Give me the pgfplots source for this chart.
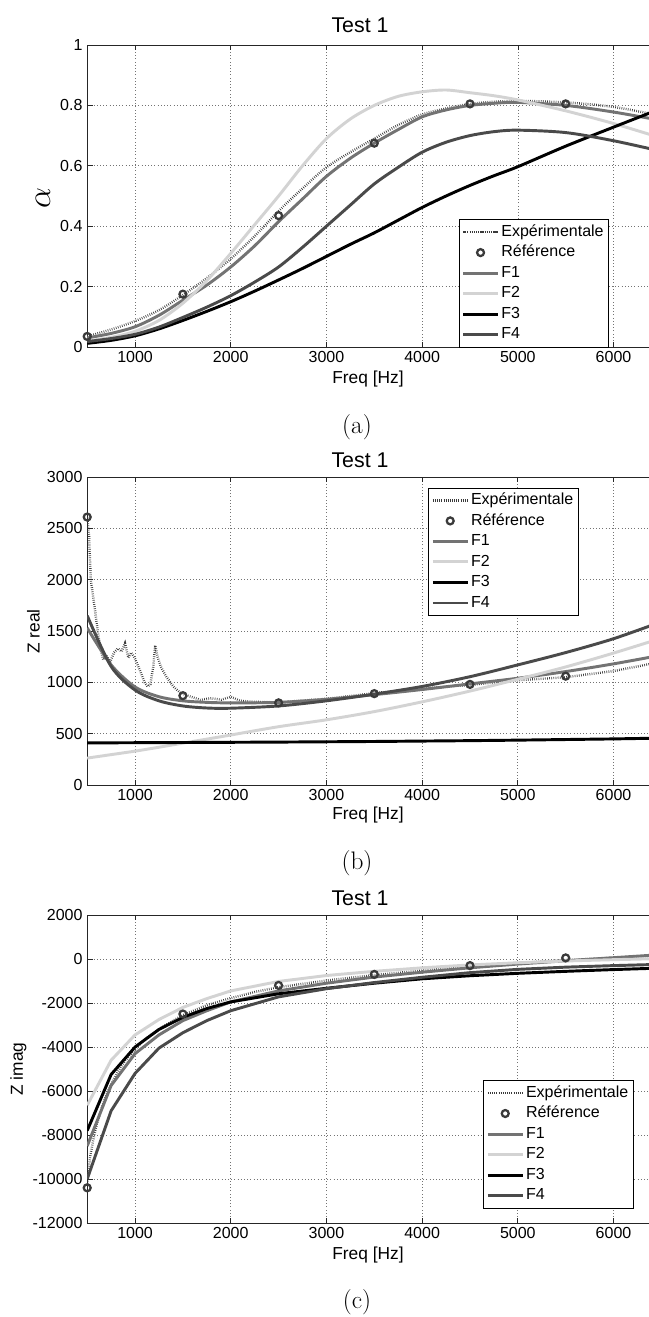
\documentclass[border=0pt]{standalone}
\usepackage{fontspec}
\usepackage{pgfplots}
\usepackage{pgfplotstable}
\pgfplotsset{compat=1.18}
\newfontfamily\hv{Liberation Sans}
\definecolor{cF1}{HTML}{737373}
\definecolor{cF2}{HTML}{D3D3D3}
\definecolor{cF3}{HTML}{000000}
\definecolor{cF4}{HTML}{4A4A4A}
\definecolor{cExp}{HTML}{3A3A3A}
\definecolor{cRef}{HTML}{3A3A3A}

\pgfplotstableread{
f     F1    F2    F3    F4    Exp
500   0.030 0.020 0.012 0.018 0.035
750   0.045 0.032 0.022 0.028 0.058
1000  0.067 0.052 0.037 0.042 0.086
1250  0.105 0.088 0.060 0.066 0.122
1500  0.155 0.145 0.088 0.098 0.172
1750  0.205 0.220 0.118 0.132 0.228
2000  0.265 0.310 0.150 0.170 0.292
2250  0.335 0.405 0.185 0.215 0.367
2500  0.415 0.500 0.222 0.265 0.450
2750  0.490 0.600 0.260 0.330 0.525
3000  0.565 0.690 0.300 0.400 0.595
3250  0.625 0.755 0.340 0.470 0.645
3500  0.675 0.800 0.378 0.540 0.690
3750  0.720 0.830 0.420 0.595 0.735
4000  0.762 0.845 0.462 0.645 0.770
4250  0.785 0.851 0.500 0.678 0.790
4500  0.800 0.842 0.535 0.700 0.805
4750  0.807 0.832 0.567 0.713 0.812
5000  0.810 0.818 0.597 0.718 0.815
5500  0.800 0.782 0.665 0.710 0.810
6000  0.778 0.740 0.728 0.683 0.795
6500  0.750 0.692 0.790 0.648 0.765
}\tabA
\pgfplotstableread{
f     R
500   0.035
1500  0.175
2500  0.435
3500  0.675
4500  0.805
5500  0.805
6500  0.760
}\refA

\pgfplotstableread{
f     F1    F2    F3    F4
500   1530  262   410   1650
750   1170  296   411   1155
1000  955   330   412   925
1250  860   368   413   820
1500  820   408   414   770
1750  805   447   415   750
2000  800   487   416   748
2500  805   568   418   770
3000  835   635   421   820
3500  880   715   424   885
4000  930   810   428   960
4500  985   915   432   1055
5000  1040  1030  437   1170
5500  1105  1150  443   1290
6000  1180  1285  449   1425
6500  1265  1430  457   1590
}\tabB
\pgfplotstableread{
f     E
500   2610
520   2420
537   2000
560   1850
582   1700
610   1500
634   1350
668   1220
700   1260
740   1200
780   1290
820   1330
860   1300
895   1380
930   1240
960   1290
1000  1230
1050  1120
1100  1000
1130  960
1160  980
1190  1150
1210  1360
1235  1250
1270  1150
1330  1050
1400  960
1470  900
1550  870
1680  830
1800  845
1900  830
2000  860
2100  820
2250  810
2500  805
3000  840
3500  895
4000  940
4500  975
5000  1020
5500  1050
6000  1110
6500  1200
}\expB
\pgfplotstableread{
f     R
500   2610
1500  870
2500  800
3500  890
4500  980
5500  1060
}\refB

\pgfplotstableread{
f     F1     F2     F3     F4
500   -8500  -6650  -7800  -10000
750   -5750  -4600  -5250  -6900
1000  -4300  -3450  -4000  -5200
1250  -3450  -2750  -3200  -4050
1500  -2800  -2200  -2650  -3350
1750  -2350  -1800  -2250  -2800
2000  -1950  -1450  -1950  -2350
2500  -1450  -1020  -1580  -1720
3000  -1100  -750   -1330  -1350
3500  -820   -560   -1100  -1070
4000  -600   -400   -900   -830
4500  -400   -270   -760   -620
5000  -230   -170   -650   -470
5500  -80    -90    -560   -370
6000  60     -30    -480   -300
6500  200    20     -410   -240
}\tabC
\pgfplotstableread{
f     E
500   -10300
510   -9800
530   -9000
560   -8300
600   -7500
650   -6800
700   -6200
750   -5700
800   -5300
850   -4900
900   -4600
1000  -4100
1100  -3650
1200  -3350
1300  -3050
1400  -2800
1500  -2550
1750  -2100
2000  -1780
2250  -1500
2500  -1280
3000  -980
3500  -730
4000  -520
4500  -330
5000  -180
5500  -50
6000  60
6500  160
}\expC
\pgfplotstableread{
f     R
500   -10400
1500  -2500
2500  -1200
3500  -700
4500  -300
5500  50
}\refC

\pgfplotsset{
  panel/.style={
    scale only axis, width=421.3pt,
    xmin=500, xmax=6370,
    axis x line*=box, axis y line*=left,
    axis line style={-, black!85, line width=0.6pt},
    xtick={1000,2000,3000,4000,5000,6000},
    xticklabels={1000,2000,3000,4000,5000,6000},
    scaled x ticks=false, scaled y ticks=false,
    tick align=inside, major tick length=4pt,
    tick style={black!85, line width=0.5pt},
    grid=major, grid style={dotted, black!55, line width=0.5pt},
    /pgf/number format/assume math mode=true,
    tick label style={font=\hv\fontsize{12}{13}\selectfont},
    legend cell align=left,
    legend style={font=\hv\fontsize{12}{13}\selectfont, draw=black, line width=0.6pt,
      inner xsep=2pt, inner ysep=1.5pt, row sep=0pt, outer sep=0pt,
      nodes={inner ysep=1.8pt, inner xsep=1.5pt, text height=9pt, text depth=2.8pt}},
    legend image code/.code={\draw[mark repeat=2,mark phase=2,##1] plot coordinates {(0pt,0pt) (13pt,0pt) (26pt,0pt)};},
  },
  fexp/.style={cExp, line width=1.8pt, dash pattern=on 0.5pt off 1.1pt},
  fref/.style={only marks, mark=o, mark size=2.6pt, mark options={draw=cRef, line width=1.7pt, solid},
    legend image code/.code={\draw[mark repeat=2,mark phase=2,##1] plot coordinates {(0pt,0pt) (13pt,0pt) (26pt,0pt)};}},
  f1/.style={cF1, line width=2.2pt},
  f2/.style={cF2, line width=2.2pt},
  f3/.style={cF3, line width=2.2pt},
  f4/.style={cF4, line width=2.2pt},
}

\begin{document}
\begin{tikzpicture}
\useasboundingbox (0,0) rectangle (486.75pt,-987.75pt);

% ---------- (a) ----------
\begin{axis}[panel, at={(65.4pt,-260.25pt)}, anchor=south west, height=226.5pt,
  ymin=0, ymax=1, ytick={0,0.2,0.4,0.6,0.8,1}, yticklabels={0,0.2,0.4,0.6,0.8,1},
  legend style={at={(0.662,0)}, anchor=south west}]
\addplot[fexp, smooth] table[x=f, y=Exp] {\tabA};
\addplot[fref] table[x=f, y=R] {\refA};
\addplot[f1, smooth] table[x=f, y=F1] {\tabA};
\addplot[f2, smooth] table[x=f, y=F2] {\tabA};
\addplot[f3, smooth] table[x=f, y=F3] {\tabA};
\addplot[f4, smooth] table[x=f, y=F4] {\tabA};
\legend{Expérimentale, Référence, F1, F2, F3, F4}
\end{axis}

% ---------- (b) ----------
\begin{axis}[panel, at={(65.4pt,-588.75pt)}, anchor=south west, height=231pt,
  ymin=0, ymax=3000, ytick={0,500,1000,1500,2000,2500,3000},
  yticklabels={0,500,1000,1500,2000,2500,3000},
  legend style={at={(0.608,0.964)}, anchor=north west}]
\addplot[fexp] table[x=f, y=E] {\expB};
\addplot[fref] table[x=f, y=R] {\refB};
\addplot[f1, smooth] table[x=f, y=F1] {\tabB};
\addplot[f2, smooth] table[x=f, y=F2] {\tabB};
\addplot[f3] table[x=f, y=F3] {\tabB};
\addplot[f4, smooth] table[x=f, y=F4] {\tabB};
\legend{Expérimentale, Référence, F1, F2, F3, F4}
\end{axis}

% ---------- (c) ----------
\begin{axis}[panel, at={(65.4pt,-917.25pt)}, anchor=south west, height=231pt,
  ymin=-12000, ymax=2000,
  ytick={-12000,-10000,-8000,-6000,-4000,-2000,0,2000},
  yticklabels={-12000,-10000,-8000,-6000,-4000,-2000,0,2000},
  legend style={at={(0.706,0.049)}, anchor=south west}]
\addplot[fexp] table[x=f, y=E] {\expC};
\addplot[fref] table[x=f, y=R] {\refC};
\addplot[f1] table[x=f, y=F1] {\tabC};
\addplot[f2] table[x=f, y=F2] {\tabC};
\addplot[f3] table[x=f, y=F3] {\tabC};
\addplot[f4] table[x=f, y=F4] {\tabC};
\legend{Expérimentale, Référence, F1, F2, F3, F4}
\end{axis}

% titles
\node[font=\hv\fontsize{16}{18}\selectfont] at (270pt,-18.75pt) {Test 1};
\node[font=\hv\fontsize{16}{18}\selectfont] at (270pt,-345pt) {Test 1};
\node[font=\hv\fontsize{16}{18}\selectfont] at (270pt,-673.5pt) {Test 1};
% x labels
\node[font=\hv\fontsize{13}{15}\selectfont] at (276pt,-284.25pt) {Freq [Hz]};
\node[font=\hv\fontsize{13}{15}\selectfont] at (276pt,-611.25pt) {Freq [Hz]};
\node[font=\hv\fontsize{13}{15}\selectfont] at (276pt,-941.25pt) {Freq [Hz]};
% y labels
\node[rotate=90, font=\fontsize{25}{26}\selectfont] at (32.25pt,-148.5pt) {$\alpha$};
\node[rotate=90, font=\hv\fontsize{13}{15}\selectfont] at (25pt,-473.5pt) {Z real};
\node[rotate=90, font=\hv\fontsize{13}{15}\selectfont] at (13.75pt,-801.75pt) {Z imag};
% captions
\node[font=\fontsize{19}{21}\selectfont] at (267.75pt,-320.25pt) {(a)};
\node[font=\fontsize{19}{21}\selectfont] at (267.75pt,-647.25pt) {(b)};
\node[font=\fontsize{19}{21}\selectfont] at (267.75pt,-976.5pt) {(c)};
\end{tikzpicture}
\end{document}
